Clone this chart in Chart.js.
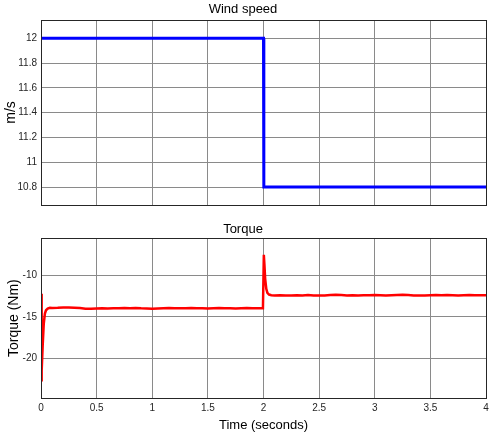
<!DOCTYPE html>
<html>
<head>
<meta charset="utf-8">
<script src="https://cdn.jsdelivr.net/npm/chart.js@4"></script>
<style>
  html, body { margin: 0; padding: 0; background: #ffffff; }
  canvas { position: absolute; left: 0; }
  #windChart { top: 0; }
  #torqueChart { top: 215px; }
</style>
</head>
<body>
<canvas id="windChart" width="499" height="215"></canvas>
<canvas id="torqueChart" width="499" height="221"></canvas>
<script>
// wind speed step (m/s)
const windTime = [0, 2, 2.003, 4];
const windSpeed = [12, 12, 10.8, 10.8];

// torque response (Nm)
const torqueTime = [
  0, 0.004, 0.008, 0.015, 0.025, 0.035, 0.045, 0.06, 0.08, 0.1,
  0.15, 0.2, 0.25, 0.3, 0.35, 0.4, 0.45, 0.5, 0.55, 0.6,
  0.65, 0.7, 0.75, 0.8, 0.85, 0.9, 0.95, 1, 1.05, 1.1,
  1.15, 1.2, 1.25, 1.3, 1.35, 1.4, 1.45, 1.5, 1.55, 1.6,
  1.65, 1.7, 1.75, 1.8, 1.85, 1.9, 1.95, 1.995,
  2.003, 2.008, 2.015, 2.025, 2.035, 2.05, 2.07, 2.1,
  2.15, 2.2, 2.25, 2.3, 2.35, 2.4, 2.45, 2.5, 2.55, 2.6,
  2.65, 2.7, 2.75, 2.8, 2.85, 2.9, 2.95, 3, 3.05, 3.1,
  3.15, 3.2, 3.25, 3.3, 3.35, 3.4, 3.45, 3.5, 3.55, 3.6,
  3.65, 3.7, 3.75, 3.8, 3.85, 3.9, 3.95, 4
];
const torqueValues = [
  -12.2, -22.8, -21.5, -18.5, -15.8, -14.6, -14.2, -14.0, -13.9, -13.92,
  -13.9, -13.85, -13.85, -13.88, -13.92, -14.0, -14.02, -13.98, -13.95, -13.97,
  -13.94, -13.96, -13.93, -13.95, -13.92, -13.96, -13.98, -14.0, -13.97, -13.95,
  -13.93, -13.96, -13.94, -13.95, -13.92, -13.96, -13.94, -13.97, -13.95, -13.93,
  -13.96, -13.94, -13.97, -13.95, -13.93, -13.96, -13.94, -13.95,
  -7.5, -8.6, -10.4, -11.6, -12.1, -12.3, -12.38, -12.4,
  -12.38, -12.4, -12.42, -12.38, -12.4, -12.36, -12.4, -12.42, -12.4, -12.35,
  -12.33, -12.36, -12.4, -12.38, -12.4, -12.37, -12.39, -12.36, -12.38, -12.4,
  -12.37, -12.34, -12.32, -12.36, -12.4, -12.42, -12.4, -12.38, -12.36, -12.38,
  -12.35, -12.37, -12.4, -12.38, -12.36, -12.39, -12.37, -12.38
];

const timeTicks = [0, 0.5, 1, 1.5, 2, 2.5, 3, 3.5, 4];
const windTicks = [10.8, 11, 11.2, 11.4, 11.6, 11.8, 12];
const torqueTicks = [-20, -15, -10];

const FONT = "'Liberation Sans', Arial, sans-serif";
const gridColor = "#8a8a8a";
const textColor = "#262626";

const boxPlugin = {
  id: "box",
  afterDraw(chart) {
    const { ctx, chartArea } = chart;
    ctx.save();
    ctx.strokeStyle = "#262626";
    ctx.lineWidth = 1;
    ctx.strokeRect(
      Math.round(chartArea.left) + 0.5,
      Math.round(chartArea.top) + 0.5,
      Math.round(chartArea.right - chartArea.left),
      Math.round(chartArea.bottom - chartArea.top)
    );
    ctx.restore();
  },
};

function setTicks(values) {
  return (scale) => {
    scale.ticks = values.map((v) => ({ value: v }));
  };
}

function makeChart(canvasId, cfg) {
  return new Chart(document.getElementById(canvasId), {
    type: "line",
    data: {
      datasets: [
        {
          data: cfg.xs.map((x, i) => ({ x, y: cfg.ys[i] })),
          borderColor: cfg.color,
          borderWidth: cfg.lineWidth,
          pointRadius: 0,
          tension: 0,
          fill: false,
        },
      ],
    },
    options: {
      responsive: false,
      animation: false,
      layout: { padding: { left: 0, right: 13, top: 0, bottom: 0 } },
      plugins: {
        legend: { display: false },
        tooltip: { enabled: false },
        title: {
          display: true,
          text: cfg.title,
          color: "#000000",
          font: { family: FONT, size: 13, weight: "normal" },
          padding: cfg.titlePadding,
        },
      },
      scales: {
        x: {
          type: "linear",
          min: 0,
          max: 4,
          afterBuildTicks: setTicks(timeTicks),
          afterFit: (scale) => { scale.height = cfg.xHeight; },
          grid: { color: gridColor, drawTicks: false },
          border: { display: false },
          ticks: {
            display: cfg.showX,
            color: textColor,
            padding: 4,
            maxRotation: 0,
            font: { family: FONT, size: 10 },
            callback: (v) => String(v),
          },
          title: {
            display: cfg.showX,
            text: "Time (seconds)",
            color: "#000000",
            font: { family: FONT, size: 13 },
            padding: { top: 0, bottom: 2.5 },
          },
        },
        y: {
          type: "linear",
          min: cfg.yMin,
          max: cfg.yMax,
          afterBuildTicks: setTicks(cfg.yTicks),
          afterFit: (scale) => { scale.width = 41; },
          grid: { color: gridColor, drawTicks: false },
          border: { display: false },
          ticks: {
            color: textColor,
            padding: 4,
            font: { family: FONT, size: 10 },
            callback: (v) => String(v),
          },
          title: {
            display: true,
            text: cfg.yLabel,
            color: "#000000",
            font: { family: FONT, size: 14 },
            padding: { top: cfg.yTitlePad, bottom: 0 },
          },
        },
      },
    },
    plugins: [boxPlugin],
  });
}

makeChart("windChart", {
  xs: windTime,
  ys: windSpeed,
  color: "#0000ff",
  lineWidth: 3,
  title: "Wind speed",
  titlePadding: { top: 2, bottom: 2.4 },
  showX: false,
  xHeight: 9,
  yMin: 10.655,
  yMax: 12.147,
  yTicks: windTicks,
  yLabel: "m/s",
  yTitlePad: 3,
});

makeChart("torqueChart", {
  xs: torqueTime,
  ys: torqueValues,
  color: "#ff0000",
  lineWidth: 2.5,
  title: "Torque",
  titlePadding: { top: 6.2, bottom: 1.5 },
  showX: true,
  xHeight: 38,
  yMin: -24.8,
  yMax: -5.5,
  yTicks: torqueTicks,
  yLabel: "Torque (Nm)",
  yTitlePad: 6,
});
</script>
</body>
</html>
